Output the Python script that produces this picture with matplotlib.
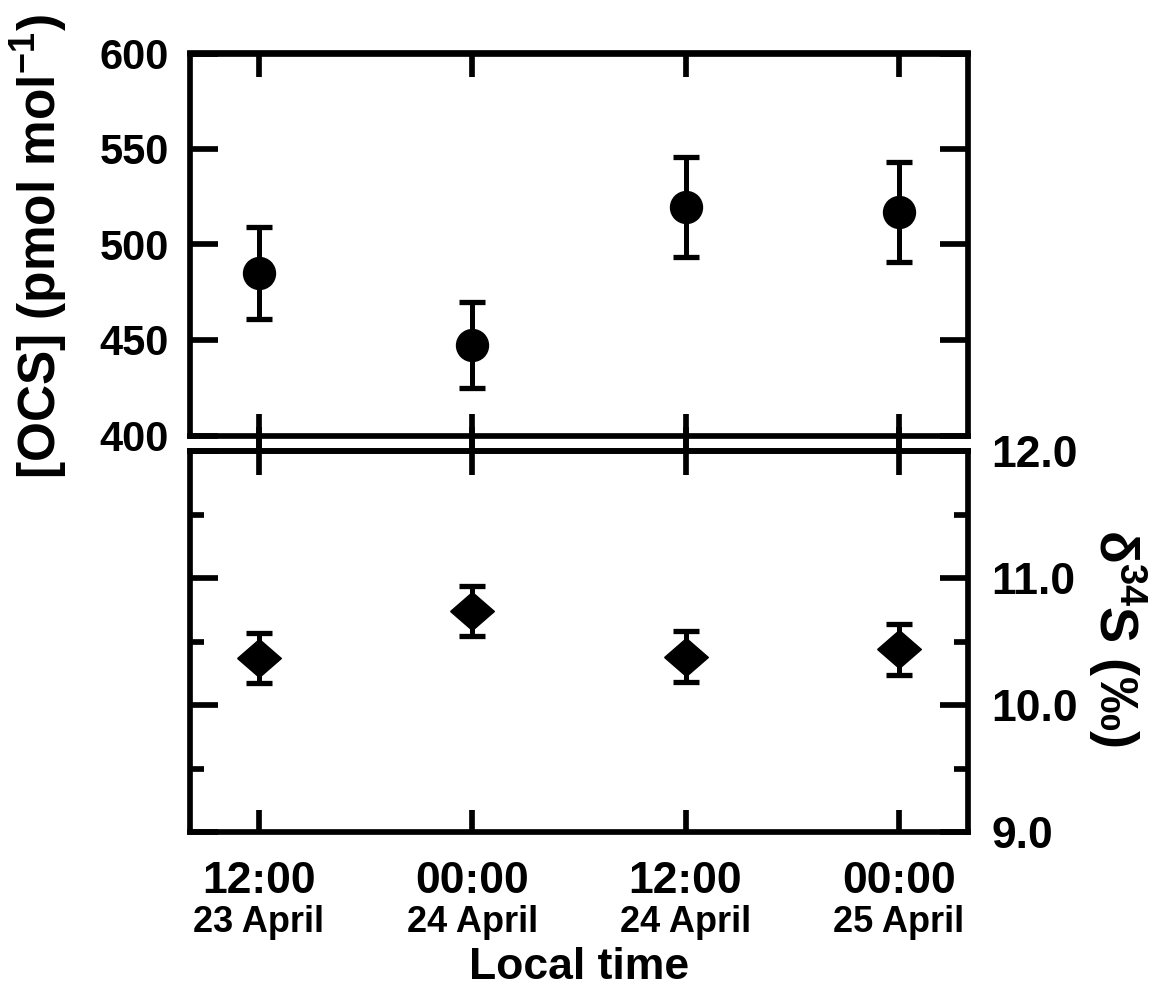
import matplotlib
matplotlib.use("Agg")
import matplotlib.pyplot as plt
import numpy as np

#%% data
times = ['12:00', '00:00', '12:00', '00:00']
dates = ['23 April', '24 April', '24 April', '25 April']
ocs = [485.2, 447.4, 519.8, 516.9]          # pmol mol-1
ocs_err = [24.1, 22.4, 26.1, 26.2]
d34s = [10.37, 10.74, 10.38, 10.44]         # permil
d34s_err = [0.20, 0.20, 0.20, 0.20]

#%% style
plt.rcParams['font.family'] = ['Liberation Sans', 'DejaVu Sans']
plt.rcParams['font.weight'] = 'bold'
plt.rcParams['mathtext.fontset'] = 'custom'
plt.rcParams['mathtext.rm'] = 'Liberation Sans:bold'
plt.rcParams['mathtext.it'] = 'Liberation Sans:bold'
plt.rcParams['mathtext.bf'] = 'Liberation Sans:bold'
plt.rcParams['mathtext.default'] = 'rm'

lw = 4.1
x = np.arange(len(times))

fig = plt.figure(figsize=(11.61, 9.89), dpi=100)
ax1 = fig.add_axes([190/1161, 1-435.5/989, 778/1161, 382/989])
ax2 = fig.add_axes([190/1161, 1-832/989, 778/1161, 381/989])

for ax in (ax1, ax2):
    for sp in ax.spines.values():
        sp.set_linewidth(lw)
    ax.set_xlim(-0.323, 3.324)
    ax.set_xticks(x)

#%% top panel: OCS
ax1.errorbar(x, ocs, yerr=ocs_err, fmt='o', color='black', ms=23,
             elinewidth=3.6, capsize=9.7, capthick=3.8)
ax1.set_ylim(400, 600)
ax1.set_yticks([400, 450, 500, 550, 600])
ax1.tick_params(axis='y', which='major', direction='in', left=True, right=True,
                length=20, width=lw, labelsize=30, pad=15)
ax1.tick_params(axis='x', which='major', direction='inout', top=False,
                bottom=True, length=32, width=lw, labelbottom=False)
# inward ticks along the top edge
ax1_top = ax1.secondary_xaxis('top')
ax1_top.set_xticks(x)
ax1_top.tick_params(direction='in', length=17, width=lw, labeltop=False)
ax1_top.spines['top'].set_linewidth(lw)
ax1.set_ylabel('[OCS] (pmol mol$^{-1}$)', fontsize=37, fontweight='bold')
ax1.yaxis.set_label_coords(-0.154, 0.495)

#%% bottom panel: d34S
diamond = [(-1, 0), (0, 0.87), (1, 0), (0, -0.87), (-1, 0)]
ax2.errorbar(x, d34s, yerr=d34s_err, fmt='none', ecolor='black',
             elinewidth=3.6, capsize=9.7, capthick=3.8)
ax2.plot(x, d34s, linestyle='none', marker=diamond, ms=31.5, color='black')
ax2.set_ylim(9.0, 12.0)
ax2.set_yticks([9.0, 10.0, 11.0, 12.0])
ax2.set_yticks([9.5, 10.5, 11.5], minor=True)
ax2.set_yticklabels(['9.0', '10.0', '11.0', '12.0'])
ax2.yaxis.tick_right()
ax2.tick_params(axis='y', which='major', direction='in', left=True, right=True,
                length=20, width=lw, labelsize=32, pad=17,
                labelleft=False, labelright=True)
ax2.tick_params(axis='y', which='minor', direction='in', left=True, right=True,
                length=10, width=lw)
ax2.tick_params(axis='x', which='major', direction='in', bottom=True,
                length=16, width=lw, labelsize=32, pad=21)
ax2.set_xticklabels(times, fontweight='bold')
ax2_top = ax2.secondary_xaxis('top')
ax2_top.set_xticks(x)
ax2_top.tick_params(direction='inout', length=34, width=lw, labeltop=False)
ax2_top.spines['top'].set_linewidth(lw)

for xi, d in zip(x, dates):
    ax2.text(xi, -0.2625, d, transform=ax2.get_xaxis_transform(),
             ha='center', va='baseline', fontsize=26, fontweight='bold')

ax2.set_xlabel('Local time', fontsize=32, fontweight='bold')
ax2.xaxis.set_label_coords(0.5, -0.302)

ax2.yaxis.set_label_position('right')
ax2.set_ylabel(r'$\delta^{34}$S (‰)', fontsize=39, fontweight='bold',
               rotation=270, va='bottom')
ax2.yaxis.set_label_coords(1.152, 0.509)

fig.savefig('out.png', dpi=100)
